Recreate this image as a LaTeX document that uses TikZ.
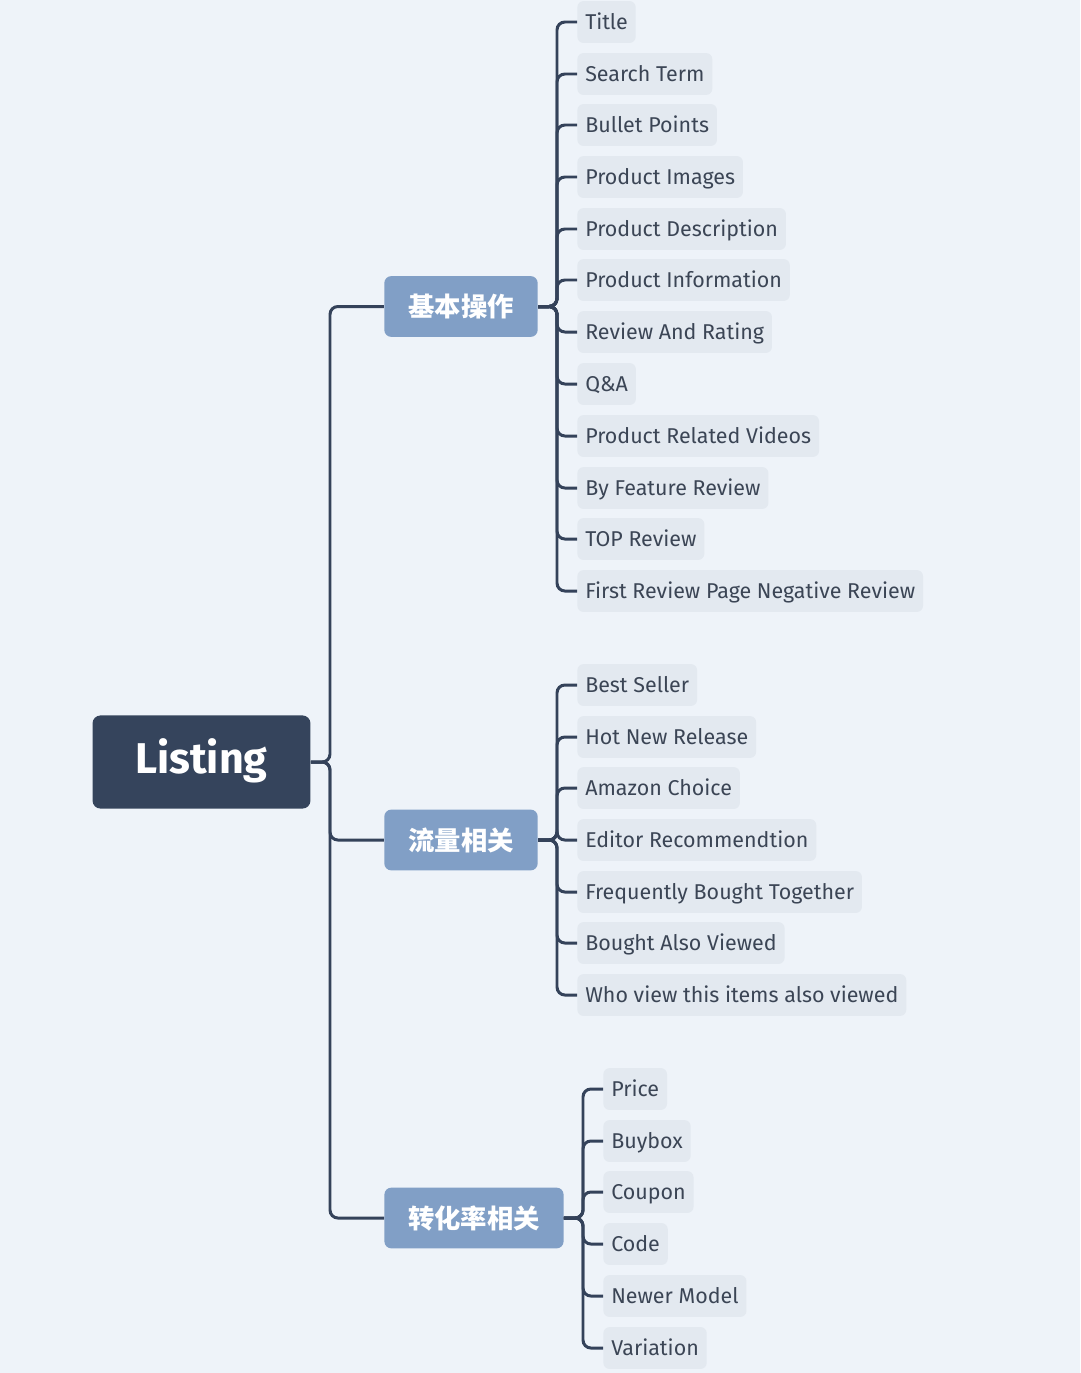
\documentclass[tikz,border=0pt]{standalone}
\usepackage{fontspec}
\setmainfont{Fira Sans}
\newfontfamily\cjk{Noto Sans CJK SC}

\definecolor{bgcol}{HTML}{EEF3F9}
\definecolor{leafcol}{HTML}{E3E9F0}
\definecolor{leaftext}{HTML}{3B4555}
\definecolor{linecol}{HTML}{34425A}
\definecolor{rootcol}{HTML}{35445C}
\definecolor{branchcol}{HTML}{819FC6}

\tikzset{
	root/.style={fill=rootcol, text=white, rounded corners=4.5pt, minimum width=124pt, minimum height=53pt, text height=17pt, text depth=4pt, font=\fontsize{24.5}{28}\selectfont\bfseries},
	branch/.style={fill=branchcol, text=white, rounded corners=4pt, minimum height=34.6pt, font=\cjk\bfseries\fontsize{15}{18}\selectfont},
	leaf/.style={anchor=west, fill=leafcol, text=leaftext, rounded corners=3.5pt, inner xsep=4.5pt, minimum height=23.8pt, text height=10pt, text depth=2pt, font=\fontsize{12.2}{14}\selectfont},
	link/.style={draw=linecol, line width=1.7pt, rounded corners=4.5pt}
}

\begin{document}
\begin{tikzpicture}[x=0.02cm, y=-0.02cm]
		\useasboundingbox (0, 0) rectangle (1080, 1373);
		\fill[bgcol] (0, 0) rectangle (1080, 1373);

		% 中心と枝
		\node[root] (root) at (201.5, 762) {Listing};
		\node[branch, minimum width=87.3pt] (b1) at (461, 306.5) {基本操作};
		\node[branch, minimum width=87.3pt] (b2) at (461, 840) {流量相关};
		\node[branch, minimum width=102pt] (b3) at (474, 1218) {转化率相关};

		% 基本操作の葉
		\node[leaf] (t1) at (577, 22) {Title};
		\node[leaf] (t2) at (577, 74) {Search Term};
		\node[leaf] (t3) at (577, 125) {Bullet Points};
		\node[leaf] (t4) at (577, 177) {Product Images};
		\node[leaf] (t5) at (577, 229) {Product Description};
		\node[leaf] (t6) at (577, 280) {Product Information};
		\node[leaf] (t7) at (577, 332) {Review And Rating};
		\node[leaf] (t8) at (577, 384) {Q\&A};
		\node[leaf] (t9) at (577, 436) {Product Related Videos};
		\node[leaf] (t10) at (577, 488) {By Feature Review};
		\node[leaf] (t11) at (577, 539) {TOP Review};
		\node[leaf] (t12) at (577, 591) {First Review Page Negative Review};

		% 流量相关の葉
		\node[leaf] (f1) at (577, 685) {Best Seller};
		\node[leaf] (f2) at (577, 737) {Hot New Release};
		\node[leaf] (f3) at (577, 788) {Amazon Choice};
		\node[leaf] (f4) at (577, 840) {Editor Recommendtion};
		\node[leaf] (f5) at (577, 892) {Frequently Bought Together};
		\node[leaf] (f6) at (577, 943) {Bought Also Viewed};
		\node[leaf] (f7) at (577, 995) {Who view this items also viewed};

		% 转化率相关の葉
		\node[leaf] (c1) at (603, 1089) {Price};
		\node[leaf] (c2) at (603, 1141) {Buybox};
		\node[leaf] (c3) at (603, 1192) {Coupon};
		\node[leaf] (c4) at (603, 1244) {Code};
		\node[leaf] (c5) at (603, 1296) {Newer Model};
		\node[leaf] (c6) at (603, 1348) {Variation};

		% 分岐点
		\coordinate (rj) at (330, 762);
		\coordinate (b1j) at (557, 306.5);
		\coordinate (b2j) at (557, 840);
		\coordinate (b3j) at (583, 1218);

		% 中心から枝へ
		\draw[link] (root.east) -- (rj) |- (b1.west);
		\draw[link] (root.east) -- (rj) |- (b2.west);
		\draw[link] (root.east) -- (rj) |- (b3.west);

		% 枝から葉へ
		\draw[link] (b1.east) -- (b1j) |- (t1.west);
		\draw[link] (b1.east) -- (b1j) |- (t2.west);
		\draw[link] (b1.east) -- (b1j) |- (t3.west);
		\draw[link] (b1.east) -- (b1j) |- (t4.west);
		\draw[link] (b1.east) -- (b1j) |- (t5.west);
		\draw[link] (b1.east) -- (b1j) |- (t6.west);
		\draw[link] (b1.east) -- (b1j) |- (t7.west);
		\draw[link] (b1.east) -- (b1j) |- (t8.west);
		\draw[link] (b1.east) -- (b1j) |- (t9.west);
		\draw[link] (b1.east) -- (b1j) |- (t10.west);
		\draw[link] (b1.east) -- (b1j) |- (t11.west);
		\draw[link] (b1.east) -- (b1j) |- (t12.west);

		\draw[link] (b2.east) -- (b2j) |- (f1.west);
		\draw[link] (b2.east) -- (b2j) |- (f2.west);
		\draw[link] (b2.east) -- (b2j) |- (f3.west);
		\draw[link] (b2.east) -- (b2j) |- (f4.west);
		\draw[link] (b2.east) -- (b2j) |- (f5.west);
		\draw[link] (b2.east) -- (b2j) |- (f6.west);
		\draw[link] (b2.east) -- (b2j) |- (f7.west);

		\draw[link] (b3.east) -- (b3j) |- (c1.west);
		\draw[link] (b3.east) -- (b3j) |- (c2.west);
		\draw[link] (b3.east) -- (b3j) |- (c3.west);
		\draw[link] (b3.east) -- (b3j) |- (c4.west);
		\draw[link] (b3.east) -- (b3j) |- (c5.west);
		\draw[link] (b3.east) -- (b3j) |- (c6.west);
\end{tikzpicture}
\end{document}
